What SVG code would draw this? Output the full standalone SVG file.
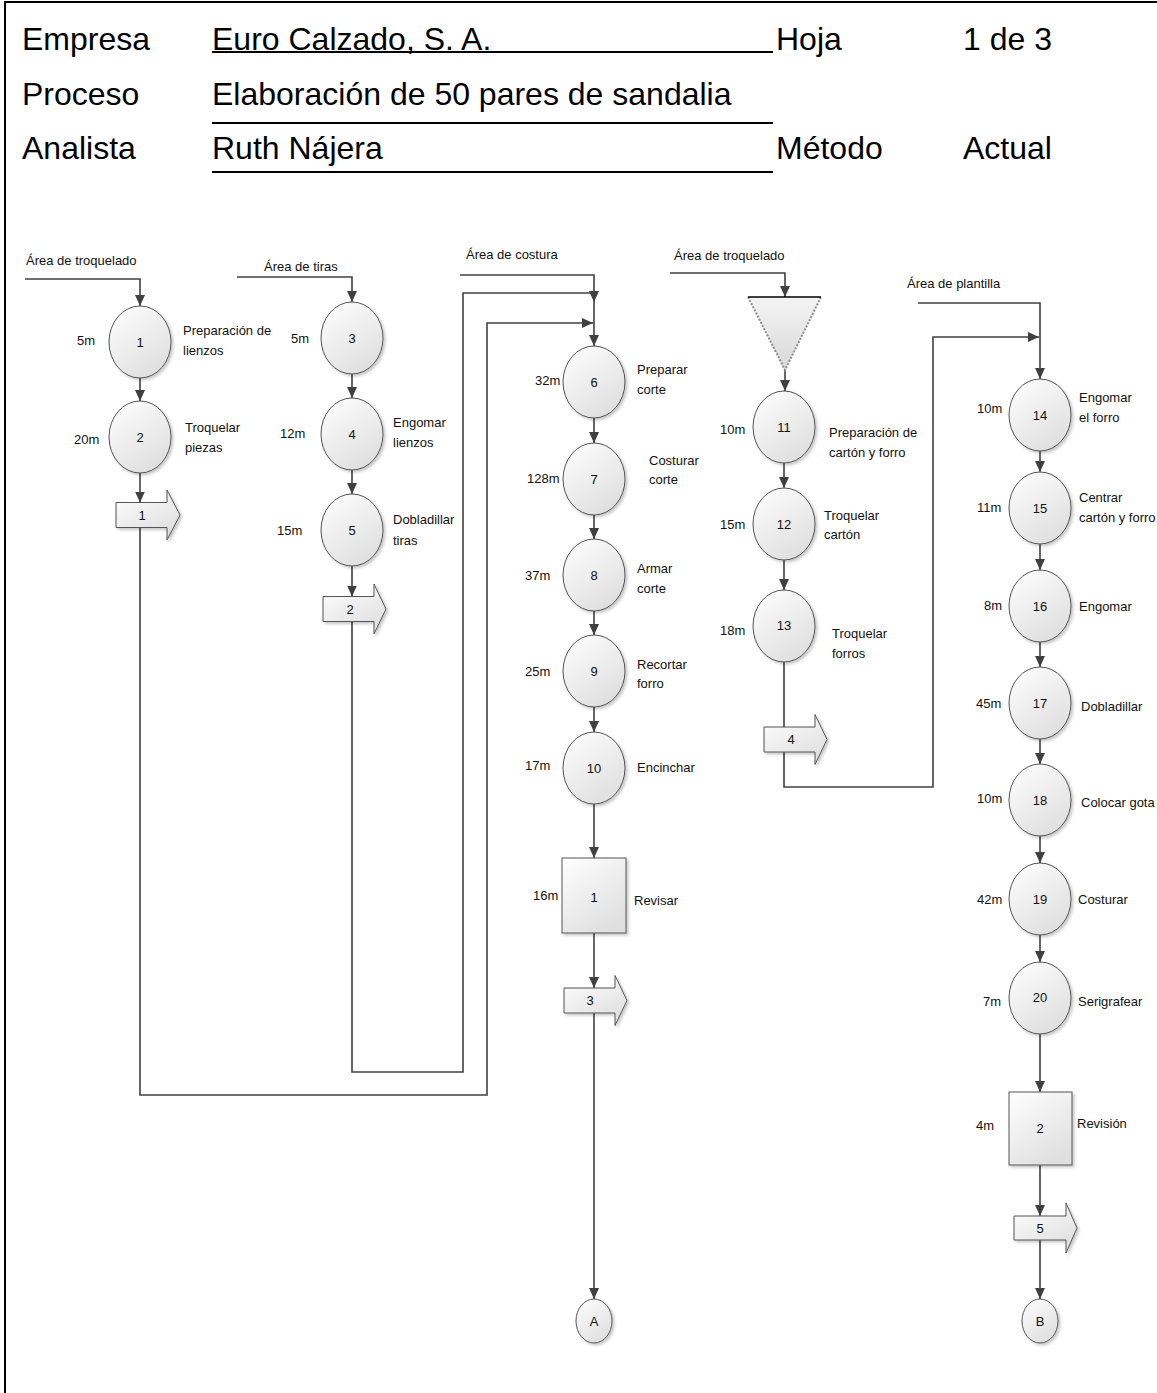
<svg xmlns="http://www.w3.org/2000/svg" width="1157" height="1393" viewBox="0 0 1157 1393">
<style>
.t{font-family:"Liberation Sans",Arial,sans-serif;font-size:13px;fill:#111}
.h{font-family:"Liberation Sans",Arial,sans-serif;font-size:32px;fill:#000}
.c{text-anchor:middle}
.op{fill:url(#g);stroke:#555;stroke-width:1;filter:url(#sh)}
.tr{fill:url(#g);stroke:#555;stroke-width:1;filter:url(#sh)}
.ln{fill:none;stroke:#404040;stroke-width:1.6}
.ar{fill:none;stroke:#404040;stroke-width:1.6;marker-end:url(#ah)}
.hl{stroke:#000;stroke-width:2}
</style>
<defs>
<linearGradient id="g" x1="0" y1="0" x2="0.6" y2="1">
<stop offset="0" stop-color="#ffffff"/>
<stop offset="1" stop-color="#e0e0e0"/>
</linearGradient>
<linearGradient id="gt" x1="0" y1="0" x2="0" y2="1">
<stop offset="0" stop-color="#f4f4f4"/>
<stop offset="1" stop-color="#d8d8d8"/>
</linearGradient>
<filter id="sh" x="-20%" y="-20%" width="150%" height="150%">
<feDropShadow dx="2" dy="2" stdDeviation="1.5" flood-color="#000" flood-opacity="0.22"/>
</filter>
<marker id="ah" viewBox="0 0 11 10" refX="11" refY="5" markerWidth="11" markerHeight="10" markerUnits="userSpaceOnUse" orient="auto">
<path d="M0,0 L11,5 L0,10 z" fill="#404040"/>
</marker>
</defs>
<rect width="1157" height="1393" fill="#fff"/>
<rect x="5" y="2" width="1170" height="1420" fill="none" stroke="#000" stroke-width="2"/>

<g id="header">
<text class="h" x="22" y="50">Empresa</text>
<text class="h" x="212" y="50">Euro Calzado, S. A.</text>
<line class="hl" x1="212" y1="52" x2="773" y2="52"/>
<text class="h" x="776" y="50">Hoja</text>
<text class="h" x="963" y="50">1 de 3</text>
<text class="h" x="22" y="105">Proceso</text>
<text class="h" x="212" y="105">Elaboración de 50 pares de sandalia</text>
<line class="hl" x1="212" y1="123" x2="773" y2="123"/>
<text class="h" x="22" y="159">Analista</text>
<text class="h" x="212" y="159">Ruth Nájera</text>
<line class="hl" x1="212" y1="172" x2="773" y2="172"/>
<text class="h" x="776" y="159">Método</text>
<text class="h" x="963" y="159">Actual</text>
</g>

<g id="connectors">
<path class="ar" d="M25,279 H140 V306"/>
<path class="ar" d="M140,378 V401"/>
<path class="ar" d="M140,473 V502.5"/>
<path class="ar" d="M140,527.5 V1095 H487 V323 H593"/>
<path class="ar" d="M237,277 H352 V302"/>
<path class="ar" d="M352,374 V398"/>
<path class="ar" d="M352,470 V494"/>
<path class="ar" d="M352,566 V596.5"/>
<path class="ln" d="M352,621.5 V1072 H463 V293 H594"/>
<path class="ar" d="M460,275 H594 V302"/>
<path class="ar" d="M594,302 V346"/>
<path class="ar" d="M594,418 V443"/>
<path class="ar" d="M594,515 V539"/>
<path class="ar" d="M594,611 V635"/>
<path class="ar" d="M594,707 V732"/>
<path class="ar" d="M594,804 V858"/>
<path class="ar" d="M594,933 V988"/>
<path class="ar" d="M594,1013 V1299"/>
<path class="ar" d="M670,273 H785 V297"/>
<path class="ar" d="M785,370 V391"/>
<path class="ar" d="M784,463 V488"/>
<path class="ar" d="M784,560 V590"/>
<path class="ln" d="M784,662 V727"/>
<path class="ar" d="M784,752 V787 H933 V337 H1039"/>
<path class="ar" d="M918,303 H1040 V379"/>
<path class="ar" d="M1040,451 V472"/>
<path class="ar" d="M1040,544 V570"/>
<path class="ar" d="M1040,642 V667"/>
<path class="ar" d="M1040,739 V764"/>
<path class="ar" d="M1040,836 V863"/>
<path class="ar" d="M1040,935 V962"/>
<path class="ar" d="M1040,1034 V1092"/>
<path class="ar" d="M1040,1165 V1216"/>
<path class="ar" d="M1040,1240 V1299"/>
</g>

<g id="area-labels">
<text class="t" x="26" y="265">Área de troquelado</text>
<text class="t" x="264" y="271">Área de tiras</text>
<text class="t" x="466" y="259">Área de costura</text>
<text class="t" x="674" y="260">Área de troquelado</text>
<text class="t" x="907" y="288">Área de plantilla</text>
</g>

<g id="op1"><ellipse class="op" cx="140" cy="342" rx="31" ry="36"/><text class="t c" x="140" y="346.5">1</text><text class="t" x="77" y="345">5m</text><text class="t" x="183" y="335">Preparación de</text><text class="t" x="183" y="355">lienzos</text></g>
<g id="op2"><ellipse class="op" cx="140" cy="437" rx="31" ry="36"/><text class="t c" x="140" y="441.5">2</text><text class="t" x="74" y="444">20m</text><text class="t" x="185" y="432">Troquelar</text><text class="t" x="185" y="452">piezas</text></g>
<g id="tr1"><path class="tr" d="M116,502.5 H167 V490 L180,515 L167,540 V527.5 H116 Z"/><text class="t c" x="142" y="519.5">1</text></g>

<g id="op3"><ellipse class="op" cx="352" cy="338" rx="31" ry="36"/><text class="t c" x="352" y="342.5">3</text><text class="t" x="291" y="343">5m</text></g>
<g id="op4"><ellipse class="op" cx="352" cy="434" rx="31" ry="36"/><text class="t c" x="352" y="438.5">4</text><text class="t" x="280" y="438">12m</text><text class="t" x="393" y="427">Engomar</text><text class="t" x="393" y="447">lienzos</text></g>
<g id="op5"><ellipse class="op" cx="352" cy="530" rx="31" ry="36"/><text class="t c" x="352" y="534.5">5</text><text class="t" x="277" y="535">15m</text><text class="t" x="393" y="524">Dobladillar</text><text class="t" x="393" y="545">tiras</text></g>
<g id="tr2"><path class="tr" d="M323,596.5 H374 V584 L386,609 L374,634 V621.5 H323 Z"/><text class="t c" x="350" y="613.5">2</text></g>

<g id="op6"><ellipse class="op" cx="594" cy="382" rx="31" ry="36"/><text class="t c" x="594" y="386.5">6</text><text class="t" x="535" y="385">32m</text><text class="t" x="637" y="374">Preparar</text><text class="t" x="637" y="394">corte</text></g>
<g id="op7"><ellipse class="op" cx="594" cy="479" rx="31" ry="36"/><text class="t c" x="594" y="483.5">7</text><text class="t" x="527" y="483">128m</text><text class="t" x="649" y="465">Costurar</text><text class="t" x="649" y="484">corte</text></g>
<g id="op8"><ellipse class="op" cx="594" cy="575" rx="31" ry="36"/><text class="t c" x="594" y="579.5">8</text><text class="t" x="525" y="580">37m</text><text class="t" x="637" y="573">Armar</text><text class="t" x="637" y="593">corte</text></g>
<g id="op9"><ellipse class="op" cx="594" cy="671" rx="31" ry="36"/><text class="t c" x="594" y="675.5">9</text><text class="t" x="525" y="676">25m</text><text class="t" x="637" y="669">Recortar</text><text class="t" x="637" y="688">forro</text></g>
<g id="op10"><ellipse class="op" cx="594" cy="768" rx="31" ry="36"/><text class="t c" x="594" y="772.5">10</text><text class="t" x="525" y="770">17m</text><text class="t" x="637" y="772">Encinchar</text></g>
<g id="insp1"><rect class="op" x="562" y="858" width="64" height="75"/><text class="t c" x="594" y="902">1</text><text class="t" x="533" y="900">16m</text><text class="t" x="634" y="905">Revisar</text></g>
<g id="tr3"><path class="tr" d="M564,988 H615 V975.5 L627,1000.5 L615,1025.5 V1013 H564 Z"/><text class="t c" x="590" y="1005">3</text></g>
<g id="connA"><ellipse class="op" cx="594" cy="1321" rx="18" ry="22"/><text class="t c" x="594" y="1325.5">A</text></g>

<g id="storage"><path d="M748,297 L785,370 L821,297 Z" fill="url(#gt)" stroke="none"/><path d="M748,297 L785,370 L821,297" fill="none" stroke="#8a8a8a" stroke-width="2" stroke-dasharray="2,1.5"/><line x1="748" y1="297" x2="821" y2="297" stroke="#000" stroke-width="1.5"/></g>
<g id="op11"><ellipse class="op" cx="784" cy="427" rx="31" ry="36"/><text class="t c" x="784" y="431.5">11</text><text class="t" x="720" y="434">10m</text><text class="t" x="829" y="437">Preparación de</text><text class="t" x="829" y="457">cartón y forro</text></g>
<g id="op12"><ellipse class="op" cx="784" cy="524" rx="31" ry="36"/><text class="t c" x="784" y="528.5">12</text><text class="t" x="720" y="529">15m</text><text class="t" x="824" y="520">Troquelar</text><text class="t" x="824" y="539">cartón</text></g>
<g id="op13"><ellipse class="op" cx="784" cy="626" rx="31" ry="36"/><text class="t c" x="784" y="630">13</text><text class="t" x="720" y="635">18m</text><text class="t" x="832" y="638">Troquelar</text><text class="t" x="832" y="658">forros</text></g>
<g id="tr4"><path class="tr" d="M764,727 H815 V714.5 L827,739.5 L815,764.5 V752 H764 Z"/><text class="t c" x="791" y="744">4</text></g>

<g id="op14"><ellipse class="op" cx="1040" cy="415" rx="31" ry="36"/><text class="t c" x="1040" y="419.5">14</text><text class="t" x="977" y="413">10m</text><text class="t" x="1079" y="402">Engomar</text><text class="t" x="1079" y="422">el forro</text></g>
<g id="op15"><ellipse class="op" cx="1040" cy="508" rx="31" ry="36"/><text class="t c" x="1040" y="512.5">15</text><text class="t" x="977" y="512">11m</text><text class="t" x="1079" y="502">Centrar</text><text class="t" x="1079" y="522">cartón y forro</text></g>
<g id="op16"><ellipse class="op" cx="1040" cy="606" rx="31" ry="36"/><text class="t c" x="1040" y="610.5">16</text><text class="t" x="984" y="610">8m</text><text class="t" x="1079" y="611">Engomar</text></g>
<g id="op17"><ellipse class="op" cx="1040" cy="703" rx="31" ry="36"/><text class="t c" x="1040" y="707.5">17</text><text class="t" x="976" y="708">45m</text><text class="t" x="1081" y="711">Dobladillar</text></g>
<g id="op18"><ellipse class="op" cx="1040" cy="800" rx="31" ry="36"/><text class="t c" x="1040" y="804.5">18</text><text class="t" x="977" y="803">10m</text><text class="t" x="1081" y="807">Colocar gota</text></g>
<g id="op19"><ellipse class="op" cx="1040" cy="899" rx="31" ry="36"/><text class="t c" x="1040" y="903.5">19</text><text class="t" x="977" y="904">42m</text><text class="t" x="1078" y="904">Costurar</text></g>
<g id="op20"><ellipse class="op" cx="1040" cy="998" rx="31" ry="36"/><text class="t c" x="1040" y="1002">20</text><text class="t" x="983" y="1006">7m</text><text class="t" x="1078" y="1006">Serigrafear</text></g>
<g id="insp2"><rect class="op" x="1009" y="1092" width="63" height="73"/><text class="t c" x="1040" y="1133">2</text><text class="t" x="976" y="1130">4m</text><text class="t" x="1077" y="1128">Revisión</text></g>
<g id="tr5"><path class="tr" d="M1014,1216 H1066 V1203 L1077,1228 L1066,1253 V1240 H1014 Z"/><text class="t c" x="1040" y="1232.5">5</text></g>
<g id="connB"><ellipse class="op" cx="1040" cy="1321" rx="18" ry="22"/><text class="t c" x="1040" y="1325.5">B</text></g>
</svg>
